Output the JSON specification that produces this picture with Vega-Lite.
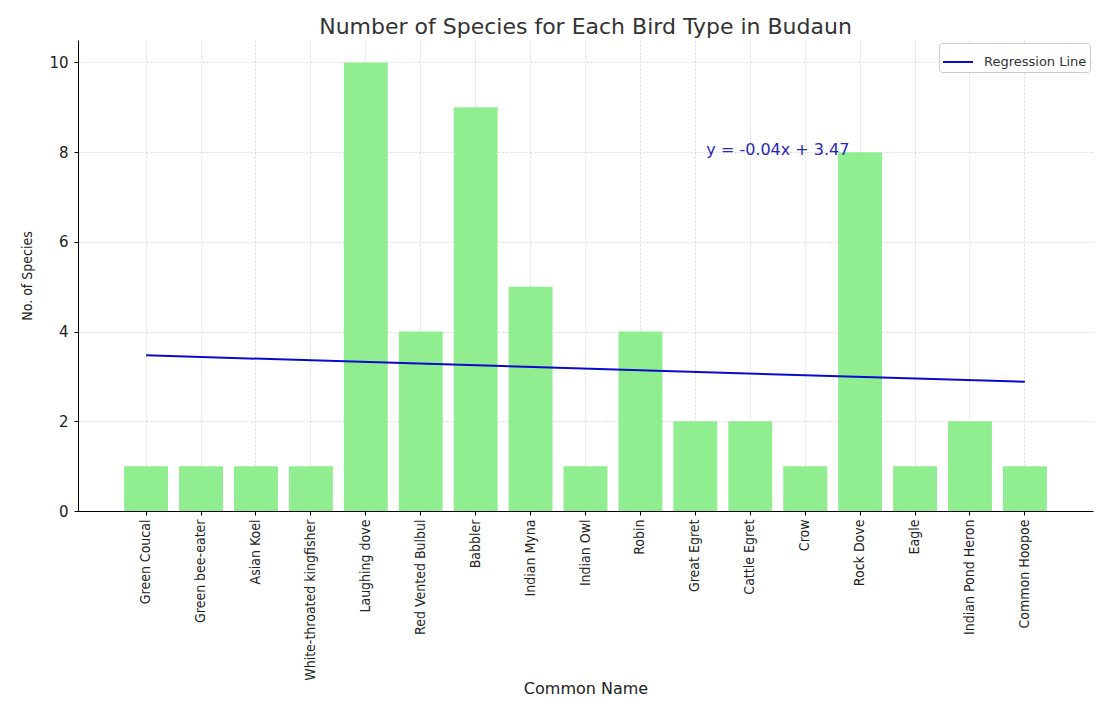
{
  "$schema": "https://vega.github.io/schema/vega-lite/v6.json",
  "autosize": {"type": "none"},
  "padding": {"left": 78, "top": 40, "right": 12, "bottom": 196},
  "width": 1015,
  "height": 471,
  "background": "white",
  "title": {
    "text": "Number of Species for Each Bird Type in Budaun",
    "font": "DejaVu Sans",
    "fontSize": 22,
    "fontWeight": "normal",
    "color": "#333333",
    "offset": 1,
    "anchor": "middle"
  },
  "config": {
    "view": {"stroke": null},
    "axis": {
      "labelFont": "DejaVu Sans",
      "titleFont": "DejaVu Sans",
      "labelColor": "#222222",
      "titleColor": "#222222",
      "titleFontWeight": "normal",
      "domainColor": "#000000",
      "tickColor": "#000000",
      "gridColor": "#d0d0d0",
      "gridDash": [2, 2],
      "gridWidth": 0.8
    }
  },
  "datasets": {
    "birds": [
      {"name": "Green Coucal", "species": 1},
      {"name": "Green bee-eater", "species": 1},
      {"name": "Asian Koel", "species": 1},
      {"name": "White-throated kingfisher", "species": 1},
      {"name": "Laughing dove", "species": 10},
      {"name": "Red Vented Bulbul", "species": 4},
      {"name": "Babbler", "species": 9},
      {"name": "Indian Myna", "species": 5},
      {"name": "Indian Owl", "species": 1},
      {"name": "Robin", "species": 4},
      {"name": "Great Egret", "species": 2},
      {"name": "Cattle Egret", "species": 2},
      {"name": "Crow", "species": 1},
      {"name": "Rock Dove", "species": 8},
      {"name": "Eagle", "species": 1},
      {"name": "Indian Pond Heron", "species": 2},
      {"name": "Common Hoopoe", "species": 1}
    ],
    "regression": [
      {"name": "Green Coucal", "fit": 3.47, "series": "Regression Line"},
      {"name": "Common Hoopoe", "fit": 2.88, "series": "Regression Line"}
    ],
    "annotation": [
      {"name": "Great Egret", "y": 8, "label": "y = -0.04x + 3.47"}
    ]
  },
  "layer": [
    {
      "data": {"name": "birds"},
      "mark": {"type": "bar", "color": "#90ee90"},
      "encoding": {
        "x": {
          "field": "name",
          "type": "nominal",
          "sort": null,
          "scale": {
            "domain": ["Green Coucal", "Green bee-eater", "Asian Koel", "White-throated kingfisher", "Laughing dove", "Red Vented Bulbul", "Babbler", "Indian Myna", "Indian Owl", "Robin", "Great Egret", "Cattle Egret", "Crow", "Rock Dove", "Eagle", "Indian Pond Heron", "Common Hoopoe"],
            "paddingInner": 0.2,
            "paddingOuter": 0.84
          },
          "axis": {
            "title": "Common Name",
            "titleFontSize": 16,
            "titlePadding": 0,
            "labelAngle": -90,
            "labelAlign": "right",
            "labelBaseline": "middle",
            "labelFont": "DejaVu Sans Condensed, DejaVu Sans",
            "labelFontSize": 14,
            "labelPadding": 4,
            "tickSize": 4,
            "bandPosition": 0.5,
            "grid": true,
            "zindex": 0
          }
        },
        "y": {
          "field": "species",
          "type": "quantitative",
          "scale": {"domain": [0, 10.5], "nice": false},
          "axis": {
            "title": "No. of Species",
            "titleFont": "DejaVu Sans Condensed, DejaVu Sans",
            "titleFontSize": 14,
            "titlePadding": 14,
            "values": [0, 2, 4, 6, 8, 10],
            "labelFontSize": 15,
            "labelPadding": 6,
            "tickSize": 4,
            "grid": true,
            "zindex": 0
          }
        }
      }
    },
    {
      "data": {"name": "regression"},
      "mark": {"type": "line", "strokeWidth": 2},
      "encoding": {
        "x": {"field": "name", "type": "nominal", "sort": null},
        "y": {"field": "fit", "type": "quantitative"},
        "color": {
          "field": "series",
          "type": "nominal",
          "scale": {"range": ["#0a0acc"]},
          "legend": {
            "title": null,
            "orient": "top-right",
            "offset": 3,
            "symbolType": "stroke",
            "symbolStrokeWidth": 2,
            "symbolSize": 900,
            "labelFont": "DejaVu Sans",
            "labelFontSize": 13,
            "labelColor": "#333333",
            "labelOffset": 10,
            "fillColor": "white",
            "strokeColor": "#cccccc",
            "cornerRadius": 3,
            "padding": 3
          }
        }
      }
    },
    {
      "data": {"name": "annotation"},
      "mark": {"type": "text", "align": "left", "baseline": "alphabetic", "dx": 11, "dy": 3, "font": "DejaVu Sans", "fontSize": 16, "color": "#2828b8"},
      "encoding": {
        "x": {"field": "name", "type": "nominal", "sort": null},
        "y": {"field": "y", "type": "quantitative"},
        "text": {"field": "label"}
      }
    }
  ]
}
